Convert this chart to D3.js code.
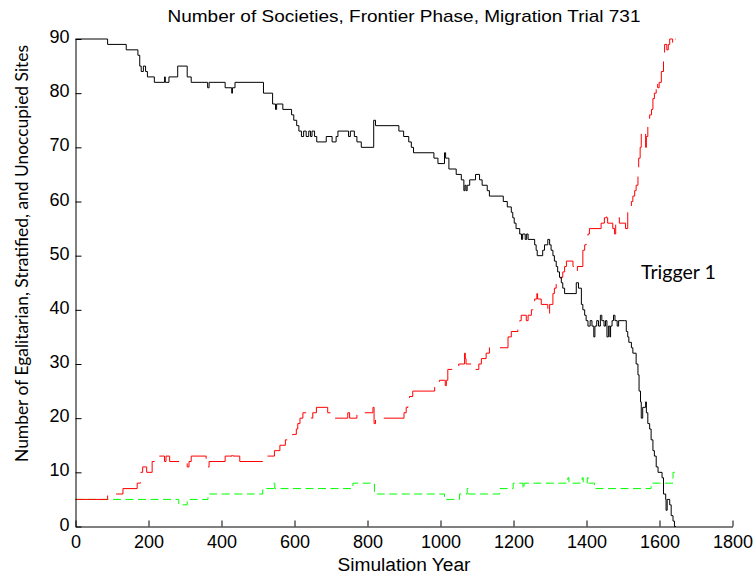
<!DOCTYPE html>
<html>
<head>
<meta charset="utf-8">
<script src="https://cdn.jsdelivr.net/npm/d3@7"></script>
<style>
  html, body { margin: 0; padding: 0; background: #fff; }
  svg { display: block; }
</style>
</head>
<body>
<div id="chart"></div>
<script>
// ---------- data (step-change points: [year, count]) ----------
const titleText = "Number of Societies, Frontier Phase, Migration Trial 731";
const xLabel = "Simulation Year";
const yLabel = "Number of Egalitarian, Stratified, and Unoccupied Sites";
const annotation = "Trigger 1";
const xTicks = [0, 200, 400, 600, 800, 1000, 1200, 1400, 1600, 1800];
const yTicks = [0, 10, 20, 30, 40, 50, 60, 70, 80, 90];

const unoccupied = [
  [0,90],[88,89],[139,88],[171,87],[176,85],[180,84],[186,85],[192,84],[197,83],[216,82],
  [244,83],[246,82],[256,83],[280,85],[306,83],[317,82],[362,81],[366,82],[410,81],[428,80],
  [430,81],[437,82],[515,80],[540,78],[548,77],[551,78],[568,77],[592,76],[598,75],[606,74],
  [612,73],[619,72],[625,73],[632,72],[639,73],[644,72],[648,73],[655,72],[661,71],[687,72],
  [703,71],[714,72],[719,73],[748,72],[753,73],[764,72],[771,71],[783,70],[817,75],[822,74],
  [886,73],[899,72],[913,71],[920,70],[926,69],[982,68],[993,67],[1011,69],[1014,68],[1020,68],
  [1023,66],[1043,65],[1057,64],[1064,62],[1067,63],[1070,62],[1073,63],[1080,64],[1096,65],
  [1107,64],[1114,63],[1128,62],[1134,61],[1172,60],[1183,59],[1194,58],[1198,57],[1202,56],
  [1207,55],[1217,54],[1222,53],[1225,54],[1232,53],[1236,54],[1240,53],[1258,52],[1262,51],
  [1265,50],[1280,51],[1285,52],[1294,53],[1299,52],[1303,51],[1308,50],[1312,49],[1317,48],
  [1321,47],[1326,46],[1331,45],[1335,44],[1340,43],[1372,45],[1378,44],[1386,41],[1390,40],
  [1395,39],[1399,38],[1404,37],[1410,38],[1415,37],[1420,35],[1423,37],[1428,38],[1433,37],
  [1438,39],[1442,38],[1448,37],[1452,38],[1456,35],[1460,37],[1464,35],[1466,37],[1470,38],
  [1474,39],[1478,38],[1484,37],[1488,38],[1505,38],[1509,36],[1513,35],[1516,34],[1523,33],
  [1527,32],[1536,30],[1541,28],[1544,25],[1548,23],[1550,20],[1554,22],[1562,23],[1564,21],
  [1568,19],[1573,18],[1577,16],[1582,14],[1586,13],[1591,11],[1596,10],[1607,9],[1611,6],
  [1617,5],[1618,3],[1621,5],[1628,4],[1632,2],[1637,1],[1641,0],[1645,0]
];

const stratified = [
  [0,5],[88,6],[130,7],[169,8],[178,10],[184,11],[195,10],[210,12],[216,13],[244,12],
  [248,13],[258,12],[290,12],[306,11],[311,12],[317,13],[358,12],[362,11],[366,12],[410,13],
  [429,14],[432,13],[450,12],[513,13],[545,14],[560,15],[575,16],[595,17],[605,18],[609,19],
  [615,20],[623,21],[646,20],[650,21],[660,22],[691,21],[705,20],[746,21],[751,20],[771,21],
  [815,22],[818,19],[822,20],[900,21],[906,22],[911,23],[915,24],[924,25],[984,26],[997,27],
  [1010,27],[1013,26],[1016,27],[1020,29],[1050,30],[1066,32],[1068,31],[1070,30],[1092,29],
  [1105,30],[1112,31],[1125,32],[1134,33],[1185,35],[1194,36],[1212,37],[1217,38],[1221,39],
  [1235,38],[1240,39],[1249,40],[1253,41],[1258,42],[1264,43],[1266,42],[1276,41],[1294,39],
  [1299,41],[1308,43],[1312,44],[1317,45],[1330,46],[1335,47],[1340,48],[1345,49],[1363,48],
  [1372,47],[1375,48],[1385,48],[1390,51],[1395,52],[1399,53],[1404,54],[1408,55],[1440,56],
  [1449,57],[1453,58],[1455,57],[1458,56],[1472,55],[1477,54],[1480,56],[1485,57],[1490,56],
  [1507,55],[1513,58],[1518,59],[1523,60],[1527,61],[1532,62],[1536,63],[1541,65],[1543,68],
  [1547,70],[1550,73],[1562,70],[1564,72],[1568,74],[1573,76],[1578,77],[1582,79],[1586,80],
  [1591,82],[1595,81],[1599,82],[1605,84],[1611,86],[1614,89],[1620,88],[1624,89],[1628,90],
  [1636,89],[1641,90],[1645,90]
];

const egalitarian = [
  [0,5],[283,4],[306,5],[363,6],[513,7],[543,8],[546,7],[760,8],[819,6],[1011,5],
  [1052,6],[1073,7],[1076,6],[1162,7],[1199,8],[1226,7],[1229,8],[1349,9],[1352,8],[1388,9],
  [1391,8],[1402,9],[1405,8],[1422,7],[1577,8],[1637,10],[1645,10]
];

// ---------- drawing ----------
const W = 756, H = 579;
const mLeft = 75.5, mRight = 732.5, mTop = 39, mBottom = 526.5;

const svg = d3.select("#chart").append("svg")
  .attr("width", W).attr("height", H)
  .style("font-family", "'Liberation Sans', Arial, sans-serif");

const x = d3.scaleLinear().domain([0, 1800]).range([mLeft, mRight]);
const y = d3.scaleLinear().domain([0, 90]).range([mBottom, mTop]);

const line = d3.line()
  .x(d => x(d[0]))
  .y(d => y(d[1]))
  .curve(d3.curveStepAfter);

svg.append("path").datum(egalitarian)
  .attr("fill", "none").attr("stroke", "#00ff00").attr("stroke-width", 1)
  .attr("stroke-dasharray", "8,4.5").attr("d", line);

svg.append("path").datum(stratified)
  .attr("fill", "none").attr("stroke", "#ff0000").attr("stroke-width", 1)
  .attr("stroke-dasharray", "36,10").attr("d", line);

svg.append("path").datum(unoccupied)
  .attr("fill", "none").attr("stroke", "#000").attr("stroke-width", 1)
  .attr("d", line);

// axes
const xAxis = d3.axisBottom(x).tickValues(xTicks).tickFormat(d3.format("d"))
  .tickSizeInner(-6).tickSizeOuter(0).tickPadding(9);
const yAxis = d3.axisLeft(y).tickValues(yTicks).tickFormat(d3.format("d"))
  .tickSizeInner(-6).tickSizeOuter(0).tickPadding(6);

const gx = svg.append("g").attr("transform", `translate(0,${mBottom})`).call(xAxis);
const gy = svg.append("g").attr("transform", `translate(${mLeft},0)`).call(yAxis);

[gx, gy].forEach(g => {
  g.selectAll("path.domain").attr("stroke", "#000").attr("stroke-width", 1);
  g.selectAll(".tick line").attr("stroke", "#000").attr("stroke-width", 1);
  g.selectAll(".tick text").attr("fill", "#000")
    .style("font-family", "'Liberation Sans', Arial, sans-serif")
    .style("font-size", "18px");
});
gy.selectAll(".tick text").attr("dy", "0.2em");

// title
svg.append("text")
  .attr("x", (mLeft + mRight) / 2).attr("y", 22)
  .attr("text-anchor", "middle")
  .style("font-size", "17px")
  .attr("textLength", 473).attr("lengthAdjust", "spacingAndGlyphs")
  .attr("fill", "#000")
  .text(titleText);

// x label
svg.append("text")
  .attr("x", (mLeft + mRight) / 2).attr("y", 571)
  .attr("text-anchor", "middle")
  .style("font-size", "18px")
  .attr("textLength", 133).attr("lengthAdjust", "spacingAndGlyphs")
  .attr("fill", "#000")
  .text(xLabel);

// y label
svg.append("text")
  .attr("transform", `translate(28,${(45 + 462) / 2}) rotate(-90)`)
  .attr("text-anchor", "middle")
  .style("font-family", "Lato, 'Open Sans', sans-serif")
  .style("font-size", "18px")
  .attr("textLength", 417).attr("lengthAdjust", "spacingAndGlyphs")
  .attr("fill", "#000")
  .text(yLabel);

// annotation
svg.append("text")
  .attr("x", 641).attr("y", 279)
  .style("font-family", "Lato, 'Open Sans', sans-serif")
  .style("font-size", "19px")
  .attr("textLength", 75).attr("lengthAdjust", "spacingAndGlyphs")
  .attr("fill", "#000")
  .text(annotation);
</script>
</body>
</html>
